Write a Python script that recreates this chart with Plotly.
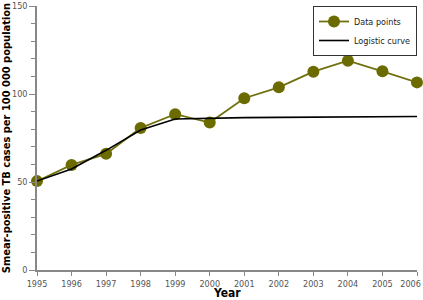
import plotly.graph_objects as go

years = [1995, 1996, 1997, 1998, 1999, 2000, 2001, 2002, 2003, 2004, 2005, 2006]
data_points = [50.5, 59.7, 66.0, 80.7, 88.5, 83.8, 97.6, 103.8, 112.7, 118.9, 112.9, 106.6]
logistic = [50.5, 57.4, 68.0, 79.5, 85.8, 86.4, 86.6, 86.7, 86.8, 86.9, 87.0, 87.2]
tick_labels = [str(y) for y in years[:-1]] + [str(years[-1]) + "\u00a0" * 5]

olive = "#6b6b00"
font_family = "DejaVu Sans Condensed, Liberation Sans Narrow, Arial Narrow, sans-serif"

fig = go.Figure()
fig.add_trace(go.Scatter(
    x=years, y=data_points, mode="lines+markers", name="Data points",
    line=dict(color="#707010", width=1.8),
    marker=dict(color=olive, size=12), cliponaxis=False,
))
fig.add_trace(go.Scatter(
    x=years, y=logistic, mode="lines", name="Logistic curve",
    line=dict(color="black", width=1.6), cliponaxis=False,
))

fig.update_layout(
    width=423, height=300,
    margin=dict(l=37, r=6, t=6, b=30, autoexpand=False),
    paper_bgcolor="white", plot_bgcolor="white",
    font=dict(family=font_family, size=9, color="#555555"),
    showlegend=True,
    legend=dict(
        x=1.0, y=1.0, xanchor="right", yanchor="top",
        bordercolor="#333333", borderwidth=1, bgcolor="white",
        font=dict(size=9, color="#222222"),
        itemwidth=30, tracegroupgap=2,
    ),
    xaxis=dict(
        range=[1995, 2006], tickmode="array", tickvals=years,
        ticktext=tick_labels,
        showgrid=False, zeroline=False, automargin=False,
        showline=True, linecolor="#888888", linewidth=1.5,
        ticks="outside", ticklen=4, tickcolor="#888888",
        ticklabeloverflow="allow",
    ),
    yaxis=dict(
        range=[0, 150], tickvals=[0, 50, 100, 150],
        showgrid=False, zeroline=False, automargin=False,
        showline=True, linecolor="#888888", linewidth=1.5,
        ticks="outside", ticklen=6, tickcolor="#888888",
        minor=dict(dtick=10, ticks="outside", ticklen=4, tickcolor="#888888"),
        title=dict(text="<b>Smear-positive TB cases per 100 000 population</b>",
                   font=dict(size=11, color="black"), standoff=2),
    ),
    annotations=[dict(
        text="<b>Year</b>", xref="paper", yref="paper", x=0.5, y=-0.087,
        xanchor="center", yanchor="middle", showarrow=False,
        font=dict(size=12, color="black"),
    )],
)

fig.write_html("out.html", post_script="document.body.style.margin='0';",
               config={"displayModeBar": False})
